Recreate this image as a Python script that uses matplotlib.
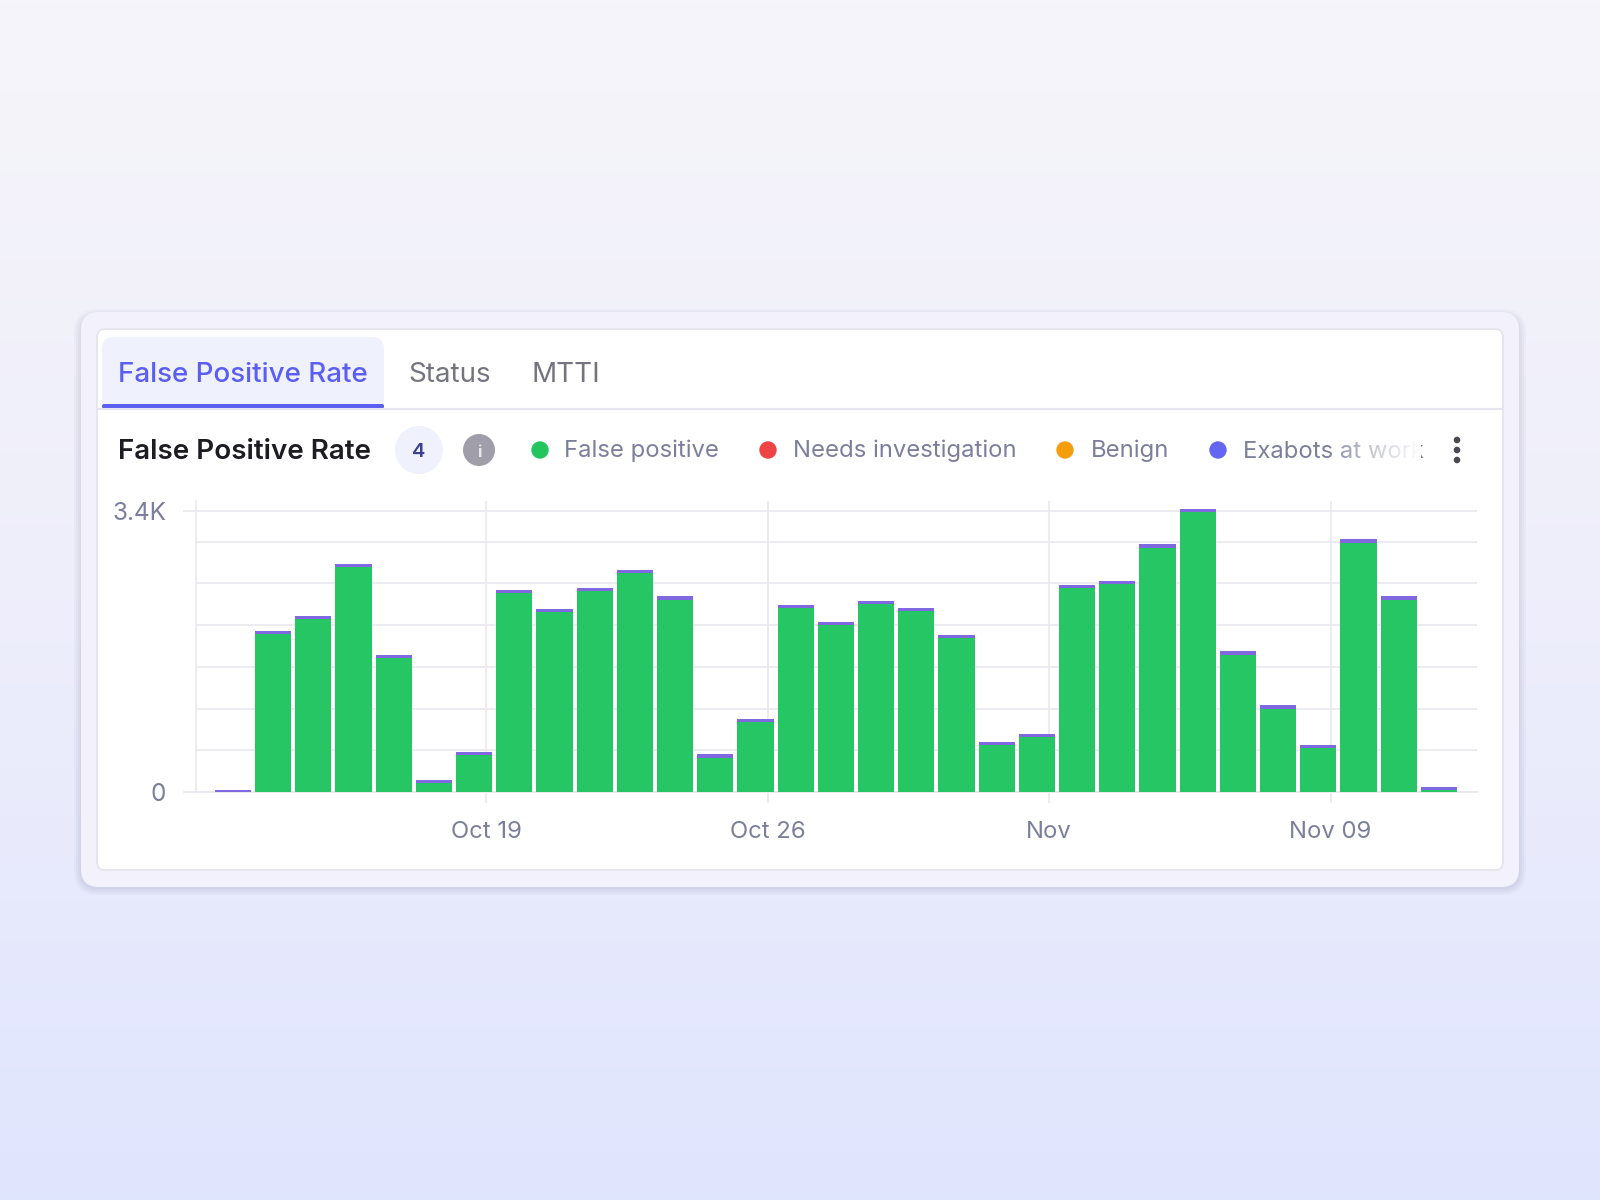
import numpy as np
import pandas as pd
import matplotlib
matplotlib.use("Agg")
import matplotlib.pyplot as plt
import matplotlib.dates as mdates
from matplotlib.colors import LinearSegmentedColormap
from matplotlib.patches import Circle, FancyBboxPatch, Rectangle

plt.rcParams['font.family'] = ['Inter', 'DejaVu Sans']

# daily values
dates = pd.date_range("2024-10-12", "2024-11-11", freq="D")
false_positive = [0, 1890, 2073, 2695, 1609, 108, 438, 2378, 2158, 2402, 2622, 2304, 413, 840, 2207, 1999,
                  2256, 2170, 1841, 560, 657, 2439, 2487, 2927, 3354, 1646, 999, 523, 2988, 2304, 28]
exabots = [28, 38, 38, 38, 38, 38, 38, 38, 38, 38, 38, 38, 38, 38, 38, 38,
           38, 38, 38, 38, 38, 38, 38, 38, 38, 38, 38, 38, 38, 38, 32]
y_grid = [500, 1000, 1500, 2000, 2500, 3000]
y_ticks = [0, 3366]
y_tick_labels = ["0", "3.4K"]
x_ticks = pd.to_datetime(["2024-10-19", "2024-10-26", "2024-11-02", "2024-11-09"])
x_tick_labels = ["Oct 19", "Oct 26", "Nov", "Nov 09"]
legend_names = ["False positive", "Needs investigation", "Benign", "Exabots at work"]
legend_colors = ["#22c55e", "#ef4444", "#f59e0b", "#6366f1"]
tab_names = ["False Positive Rate", "Status", "MTTI"]

GREY = "#7c7f9c"
GRID = "#e9e8f0"
ACCENT = "#5b5ef0"

fig = plt.figure(figsize=(16, 12), dpi=100)

# page and card are drawn in pixel coords
bg = fig.add_axes([0, 0, 1, 1])
bg.axis("off")
cmap = LinearSegmentedColormap.from_list("page", ["#f6f5fa", "#eeeefb", "#e0e5fe"])
bg.imshow(np.linspace(0, 1, 600).reshape(-1, 1), cmap=cmap, aspect="auto", extent=(0, 1600, 1200, 0))
bg.set_xlim(0, 1600)
bg.set_ylim(1200, 0)


def rounded(x0, y0, x1, y1, r, **kw):
    p = FancyBboxPatch((x0 + r, y0 + r), x1 - x0 - 2 * r, y1 - y0 - 2 * r,
                       boxstyle=f"round,pad={r},rounding_size={r}", **kw)
    bg.add_patch(p)
    return p


# soft shadow, mostly below the card
for grow in [7, 5, 3, 1]:
    rounded(81 - grow, 316 - grow, 1519 + grow, 888 + grow, 18 + grow, fc="#5a5f85", ec="none", alpha=0.04)
rounded(81, 312, 1519, 887, 18, fc="#f3f2fc", ec="none")
rounded(97, 329, 1503, 870, 8, fc="white", ec="#e6e5ee", lw=1.4)

# tabs
rounded(102, 337, 384, 420, 12, fc="#eff1fd", ec="none")
bg.add_patch(Rectangle((98, 408.5), 1404, 70, fc="white", ec="none"))
bg.plot([98, 1502], [409, 409], color="#e6e5ee", lw=1.5, solid_capstyle="butt")
rounded(102, 404, 384, 408.5, 2, fc=ACCENT, ec="none")
for name, x, col, weight in zip(tab_names, [118, 408, 532], [ACCENT, "#74747f", "#74747f"],
                                ["medium", "normal", "normal"]):
    bg.text(x, 382, name, fontsize=20, color=col, va="baseline", ha="left", fontweight=weight)

# header row
bg.text(118, 459, "False Positive Rate", fontsize=20, color="#1c1c22", va="baseline", ha="left", fontweight="semibold")
bg.add_patch(Circle((419, 450), 24, fc="#eff1fd", ec="none"))
bg.text(419, 456.7, "4", fontsize=14.5, color="#3f418f", va="baseline", ha="center", fontweight="semibold")
bg.add_patch(Circle((479, 450), 16, fc="#a09ea8", ec="none"))
bg.text(479, 457, "i", fontsize=12, color="#e8e8ec", va="baseline", ha="center", fontweight="bold")
for name, col, dx, tx in zip(legend_names, legend_colors, [540, 768, 1065, 1218], [564, 793, 1091, 1243]):
    bg.add_patch(Circle((dx, 450), 8.7, fc=col, ec="none"))
    bg.text(tx, 457.5, name, fontsize=17.2, color=GREY, va="baseline", ha="left")

# fade out the clipped legend label
fade = np.ones((2, 200, 4))
fade[:, :, 3] = np.linspace(0, 1, 200) ** 0.8
bg.imshow(fade, aspect="auto", extent=(1328, 1421, 472, 428), zorder=5)
bg.set_xlim(0, 1600)
bg.set_ylim(1200, 0)

for y in [440, 450, 460]:
    bg.add_patch(Circle((1457, y), 3.3, fc="#4a4a52", ec="none", zorder=6))

# the chart itself
ax = fig.add_axes([196 / 1600, 1 - 792 / 1200, (1477.5 - 196) / 1600, (792 - 501) / 1200])
ax.patch.set_alpha(0)
x = mdates.date2num(dates) + 0.695
ax.bar(x, false_positive, width=0.9, color="#27c665", zorder=3)
ax.bar(x, exabots, width=0.9, bottom=false_positive, color="#8069e0", zorder=3)

anchor = mdates.date2num(x_ticks[0])
ax.set_xlim(anchor - 7.225, anchor + 24.655)
ax.set_ylim(0, 3486)
ax.set_xticks(mdates.date2num(x_ticks), x_tick_labels)
ax.set_yticks(y_ticks, y_tick_labels)
ax.set_yticks(y_grid, minor=True)
ax.tick_params(axis="x", length=8, width=1.2, color=GRID, pad=13, labelsize=17.2, labelcolor=GREY)
ax.tick_params(axis="y", length=9.5, width=1.2, color=GRID, pad=12, labelsize=17.5, labelcolor=GREY)
ax.tick_params(axis="y", which="minor", length=0)
ax.grid(True, axis="both", which="major", color=GRID, lw=1.2, zorder=0)
ax.grid(True, axis="y", which="minor", color=GRID, lw=1.2, zorder=0)
ax.set_axisbelow(True)
for side in ["top", "right"]:
    ax.spines[side].set_visible(False)
for side in ["left", "bottom"]:
    ax.spines[side].set_color(GRID)
    ax.spines[side].set_linewidth(1.2)

fig.savefig("out.png", dpi=100)
